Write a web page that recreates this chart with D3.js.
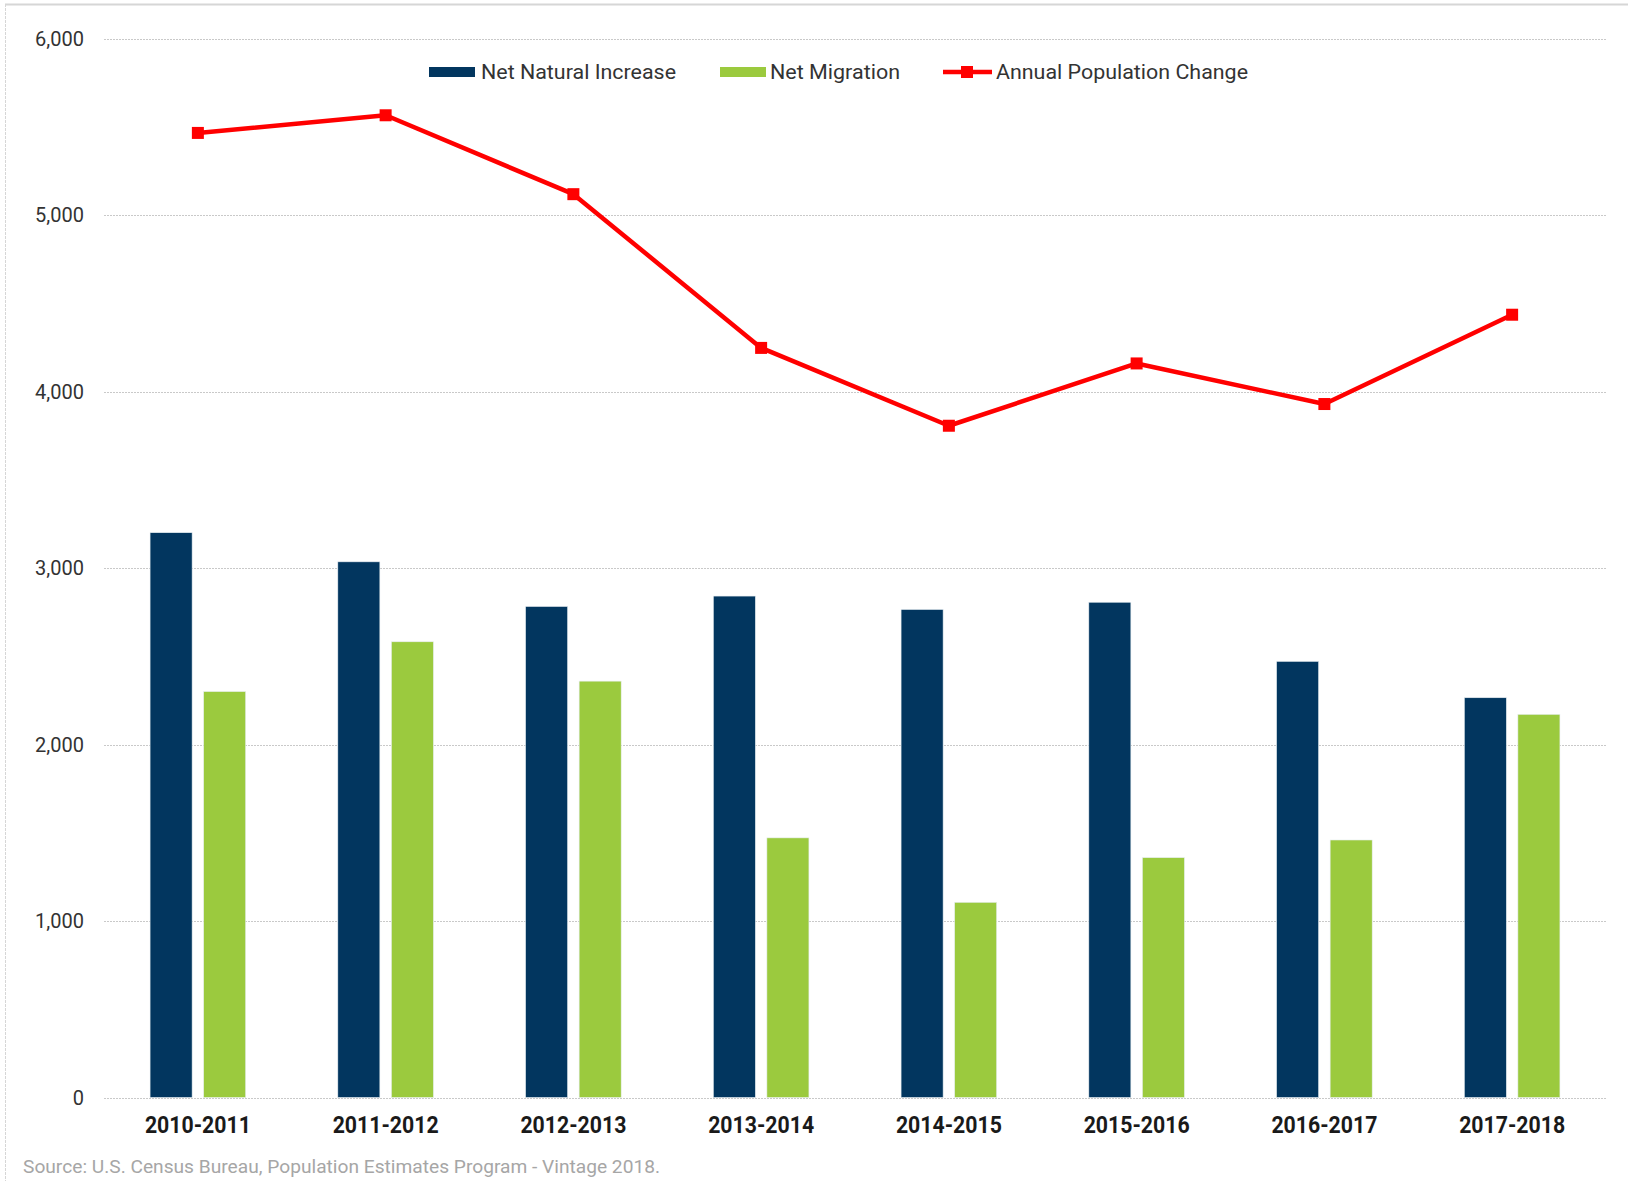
<!DOCTYPE html>
<html lang="en">
<head>
  <meta charset="UTF-8">
  <title>Population Change Components</title>
  <style>
    body { margin: 0; background: #fff; font-family: Roboto, sans-serif; }
    .grid line { stroke: #c9c9c9; stroke-width: 1; stroke-dasharray: 2,1; }
    .ytick { font-size: 20px; fill: #333; }
    .xtick { font-size: 23px; font-weight: bold; fill: #1a1a1a; }
    .legend text { font-size: 20px; fill: #333; }
  </style>
</head>
<body>
  <svg width="1628" height="1181"></svg>
  <script src="https://d3js.org/d3.v7.min.js"></script>
  <script>
    const width = 1628, height = 1181;

    const periods = ['2010-2011', '2011-2012', '2012-2013', '2013-2014',
                     '2014-2015', '2015-2016', '2016-2017', '2017-2018'];
    const naturalIncrease = [3200, 3035, 2782, 2841, 2765, 2806, 2471, 2265];
    const netMigration = [2300, 2582, 2359, 1471, 1106, 1359, 1459, 2171];
    const populationChange = [5465, 5565, 5118, 4247, 3806, 4159, 3929, 4435];
    const yTicks = [0, 1000, 2000, 3000, 4000, 5000, 6000];
    const seriesNames = ['Net Natural Increase', 'Net Migration', 'Annual Population Change'];

    const colors = { natural: '#02365f', migration: '#9bca3e', change: '#ff0000' };

    const svg = d3.select("svg");

    // light frame around the chart area
    svg.append("line").attr("x1", 5).attr("x2", width).attr("y1", 4.5).attr("y2", 4.5)
      .attr("stroke", "#d6d6d6").attr("stroke-width", 2);
    svg.append("line").attr("x1", 5.5).attr("x2", 5.5).attr("y1", 4).attr("y2", height)
      .attr("stroke", "#d6d6d6").attr("stroke-width", 1).attr("stroke-dasharray", "3,1");

    const x = d3.scaleBand().domain(periods).range([104, 1606]).padding(0);
    const y = d3.scaleLinear().domain([0, 6000]).range([1097.5, 38.5]);
    const xSub = d3.scaleBand().domain(['natural', 'migration'])
      .range([0, x.bandwidth()]).paddingInner(0.215).paddingOuter(0.86);

    // gridlines
    svg.append("g").attr("class", "grid")
      .selectAll("line")
      .data(yTicks)
      .join("line")
      .attr("x1", 104).attr("x2", 1606)
      .attr("y1", d => Math.round(y(d)) + 0.5)
      .attr("y2", d => Math.round(y(d)) + 0.5);

    // y axis labels
    svg.append("g")
      .selectAll("text")
      .data(yTicks)
      .join("text")
      .attr("class", "ytick")
      .attr("x", 84)
      .attr("y", d => y(d) + 7)
      .attr("text-anchor", "end")
      .text(d => d3.format(",")(d));

    // bars
    const rows = periods.map((p, i) => ({
      period: p, natural: naturalIncrease[i], migration: netMigration[i], change: populationChange[i]
    }));

    const groups = svg.append("g")
      .selectAll("g")
      .data(rows)
      .join("g")
      .attr("transform", d => `translate(${x(d.period)},0)`);

    groups.selectAll("rect")
      .data(d => ['natural', 'migration'].map(k => ({ key: k, value: d[k] })))
      .join("rect")
      .attr("x", d => xSub(d.key))
      .attr("width", xSub.bandwidth())
      .attr("y", d => y(d.value))
      .attr("height", d => y(0) - y(d.value))
      .attr("fill", d => colors[d.key])
      .attr("stroke", "#e8eef2")
      .attr("stroke-width", 0.6);

    // x labels
    svg.append("g")
      .selectAll("text")
      .data(periods)
      .join("text")
      .attr("class", "xtick")
      .attr("x", d => x(d) + x.bandwidth() / 2)
      .attr("y", 1133)
      .attr("text-anchor", "middle")
      .attr("textLength", 106)
      .attr("lengthAdjust", "spacingAndGlyphs")
      .text(d => d);

    // line
    const line = d3.line()
      .x(d => x(d.period) + x.bandwidth() / 2)
      .y(d => y(d.change));

    svg.append("path")
      .datum(rows)
      .attr("fill", "none")
      .attr("stroke", colors.change)
      .attr("stroke-width", 4.5)
      .attr("stroke-linejoin", "round")
      .attr("d", line);

    svg.append("g")
      .selectAll("rect")
      .data(rows)
      .join("rect")
      .attr("x", d => x(d.period) + x.bandwidth() / 2 - 6)
      .attr("y", d => y(d.change) - 6)
      .attr("width", 12).attr("height", 12)
      .attr("fill", colors.change);

    // legend
    const legend = svg.append("g").attr("class", "legend");
    const ly = 72;
    legend.append("rect").attr("x", 429).attr("y", ly - 5).attr("width", 46).attr("height", 10).attr("fill", colors.natural);
    legend.append("text").attr("x", 481).attr("y", ly + 7).attr("textLength", 195).attr("lengthAdjust", "spacingAndGlyphs").text(seriesNames[0]);
    legend.append("rect").attr("x", 720).attr("y", ly - 5).attr("width", 46).attr("height", 10).attr("fill", colors.migration);
    legend.append("text").attr("x", 770).attr("y", ly + 7).attr("textLength", 130).attr("lengthAdjust", "spacingAndGlyphs").text(seriesNames[1]);
    legend.append("line").attr("x1", 943).attr("x2", 992).attr("y1", ly).attr("y2", ly).attr("stroke", colors.change).attr("stroke-width", 4.5);
    legend.append("rect").attr("x", 961).attr("y", ly - 6).attr("width", 12).attr("height", 12).attr("fill", colors.change);
    legend.append("text").attr("x", 996).attr("y", ly + 7).attr("textLength", 252).attr("lengthAdjust", "spacingAndGlyphs").text(seriesNames[2]);

    // source note
    svg.append("text")
      .attr("x", 23).attr("y", 1173)
      .attr("font-size", 18)
      .attr("fill", "#a6a6a6")
      .attr("textLength", 637)
      .attr("lengthAdjust", "spacingAndGlyphs")
      .text("Source: U.S. Census Bureau, Population Estimates Program - Vintage 2018.");
  </script>
</body>
</html>
